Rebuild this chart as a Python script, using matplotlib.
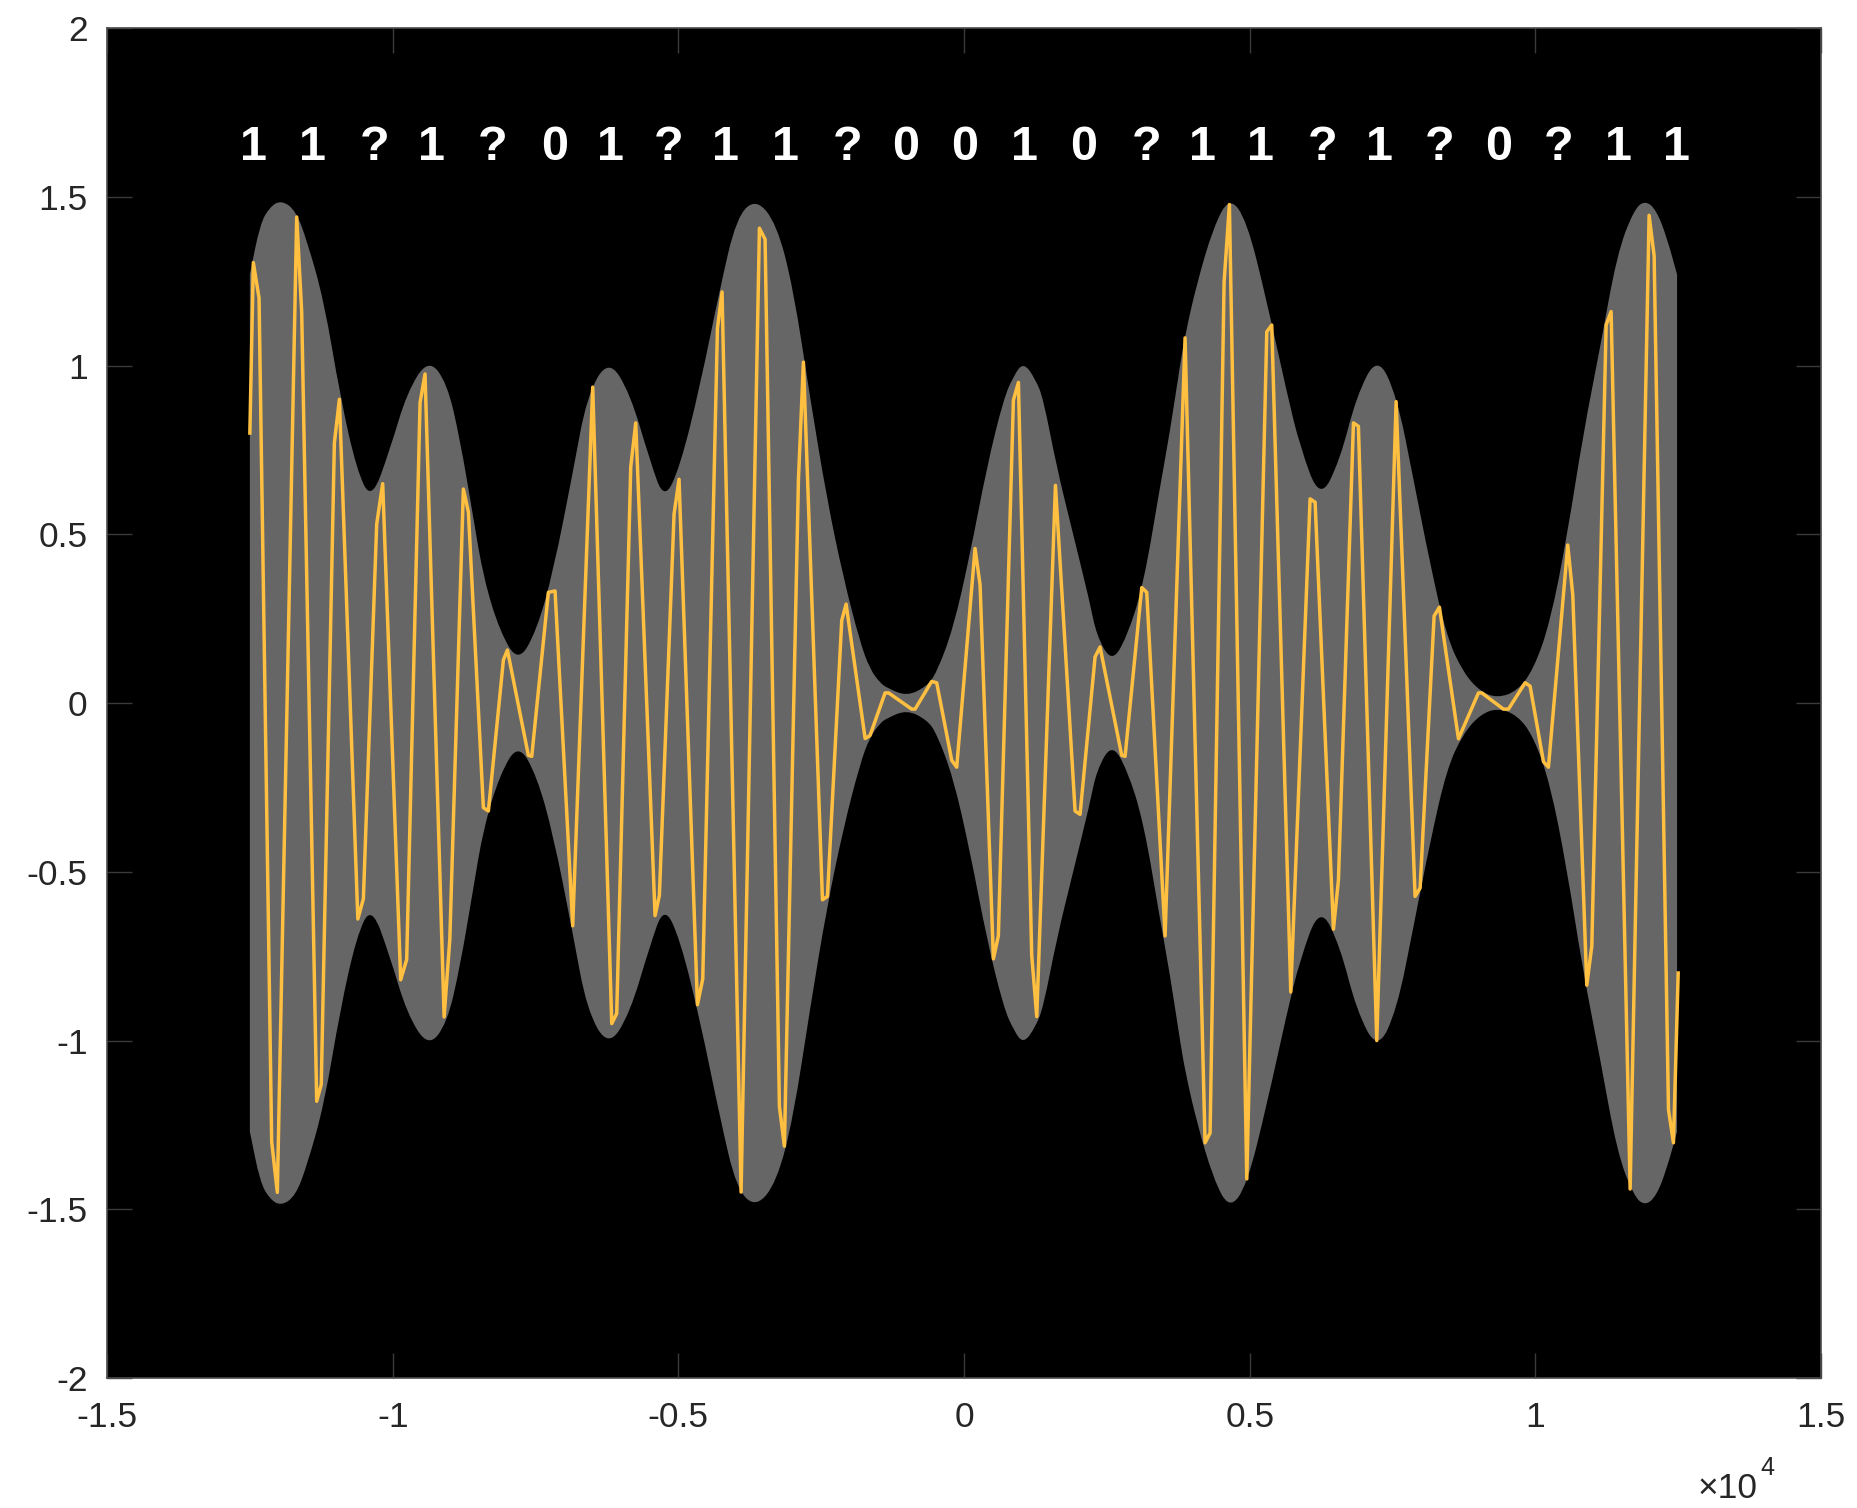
import matplotlib.pyplot as plt
from matplotlib.path import Path
from matplotlib.patches import PathPatch

plt.rcParams['font.family'] = ['Liberation Sans', 'DejaVu Sans']

# envelope (upper edge of the gray band)
env_x = [-12500, -12320, -12150, -11950, -11700, -11500, -11200, -10920, -10630, -10370,
         -10050, -9750, -9380, -9050, -8820, -8600, -8410, -8120, -7800, -7480,
         -7190, -6850, -6600, -6225, -5850, -5500, -5250, -4970, -4620, -4270,
         -3980, -3640, -3280, -2990, -2690, -2400, -2110, -1820, -1645, -1470,
         -1350, -1000, -650, -480, -190, 105, 400, 690, 870, 1040,
         1250, 1390, 1620, 1910, 2200, 2320, 2585, 2850, 3140, 3430,
         3600, 3780, 3870, 4070, 4365, 4645, 4950, 5300, 5650, 5880,
         6230, 6580, 6870, 7235, 7575, 7870, 8160, 8450, 8740, 9030,
         9330, 9680, 9970, 10260, 10550, 10840, 11130, 11430, 11720, 11920,
         12120, 12300, 12480]
env = [1.27, 1.42, 1.47, 1.49, 1.46, 1.37, 1.19, 0.91, 0.69, 0.60,
       0.75, 0.92, 1.02, 0.95, 0.78, 0.56, 0.37, 0.21, 0.12, 0.215,
       0.39, 0.68, 0.91, 1.02, 0.92, 0.72, 0.60, 0.70, 0.94, 1.23,
       1.44, 1.495, 1.42, 1.23, 0.90, 0.605, 0.37, 0.18, 0.10, 0.06,
       0.045, 0.02, 0.05, 0.09, 0.22, 0.44, 0.70, 0.90, 0.97, 1.01,
       0.96, 0.90, 0.70, 0.50, 0.30, 0.20, 0.12, 0.195, 0.35, 0.64,
       0.80, 1.0, 1.09, 1.24, 1.41, 1.50, 1.43, 1.19, 0.92, 0.76,
       0.60, 0.72, 0.91, 1.03, 0.91, 0.66, 0.41, 0.195, 0.09, 0.035,
       0.015, 0.035, 0.10, 0.24, 0.49, 0.80, 1.05, 1.33, 1.46, 1.49,
       1.46, 1.38, 1.27]

# sampled signal, vertices at the turning points
sig_x = [-12500, -12439, -12339, -12118, -12019, -11680, -11593, -11330, -11250, -11021,
         -10933, -10610, -10513, -10280, -10175, -9860, -9755, -9521, -9434, -9100,
         -9000, -8763, -8675, -8413, -8325, -8062, -7992, -7625, -7566, -7275,
         -7158, -6849, -6499, -6166, -6079, -5833, -5746, -5408, -5332, -5075,
         -4988, -4666, -4573, -4316, -4235, -3902, -3581, -3482, -3231, -3144,
         -2898, -2811, -2478, -2391, -2140, -2064, -1731, -1645, -1382, -1320,
         -916, -857, -566, -478, -215, -128, 193, 281, 514, 601,
         864, 952, 1185, 1273, 1600, 1944, 2031, 2294, 2381, 2760,
         2819, 3111, 3198, 3519, 3869, 4219, 4307, 4552, 4645, 4949,
         5299, 5386, 5719, 6057, 6145, 6466, 6553, 6816, 6903, 7224,
         7563, 7895, 7983, 8228, 8321, 8654, 9004, 9062, 9441, 9529,
         9821, 9908, 10142, 10229, 10567, 10655, 10900, 10988, 11239, 11326,
         11659, 11991, 12079, 12330, 12417, 12500]
sig_y = [0.80, 1.305, 1.20, -1.30, -1.45, 1.44, 1.16, -1.18, -1.13, 0.77,
         0.90, -0.64, -0.58, 0.53, 0.65, -0.82, -0.76, 0.89, 0.975, -0.93,
         -0.70, 0.634, 0.566, -0.31, -0.32, 0.128, 0.157, -0.155, -0.158, 0.328,
         0.332, -0.66, 0.936, -0.95, -0.92, 0.70, 0.83, -0.63, -0.57, 0.56,
         0.663, -0.894, -0.817, 1.11, 1.218, -1.449, 1.407, 1.374, -1.196, -1.313,
         0.663, 1.01, -0.583, -0.573, 0.245, 0.293, -0.105, -0.096, 0.03, 0.03,
         -0.018, -0.018, 0.064, 0.06, -0.17, -0.19, 0.458, 0.35, -0.758, -0.69,
         0.897, 0.95, -0.748, -0.929, 0.645, -0.32, -0.33, 0.137, 0.166, -0.155,
         -0.158, 0.342, 0.328, -0.69, 1.082, -1.303, -1.274, 1.247, 1.477, -1.41,
         1.10, 1.12, -0.856, 0.605, 0.595, -0.67, -0.525, 0.83, 0.82, -1.00,
         0.893, -0.573, -0.548, 0.258, 0.284, -0.106, 0.03, 0.03, -0.018, -0.018,
         0.06, 0.05, -0.174, -0.19, 0.468, 0.32, -0.836, -0.72, 1.12, 1.16,
         -1.44, 1.445, 1.325, -1.205, -1.303, -0.80]

bits = ['1', '1', '?', '1', '?', '0', '1', '?', '1', '1', '?', '0', '0',
        '1', '0', '?', '1', '1', '?', '1', '?', '0', '?', '1', '1']
bit_x = [-12429, -11409, -10325, -9320, -8252, -7167, -6196, -5175, -4170, -3118,
         -2033, -1014, 6, 1060, 2096, 3197, 4169, 5189, 6273, 7278,
         8330, 9350, 10402, 11454, 12474]
bit_y = 1.645

xticks = [-15000, -10000, -5000, 0, 5000, 10000, 15000]
xlabels = ['-1.5', '-1', '-0.5', '0', '0.5', '1', '1.5']
yticks = [-2, -1.5, -1, -0.5, 0, 0.5, 1, 1.5, 2]
ylabels = ['-2', '-1.5', '-1', '-0.5', '0', '0.5', '1', '1.5', '2']


def smooth_edge(xs, ys):
    # quadratic bezier through the midpoints, knots act as control points
    verts = [(xs[0], ys[0]), ((xs[0] + xs[1]) / 2, (ys[0] + ys[1]) / 2)]
    codes = [Path.LINETO, Path.LINETO]
    for i in range(1, len(xs) - 1):
        verts += [(xs[i], ys[i]), ((xs[i] + xs[i + 1]) / 2, (ys[i] + ys[i + 1]) / 2)]
        codes += [Path.CURVE3, Path.CURVE3]
    verts.append((xs[-1], ys[-1]))
    codes.append(Path.LINETO)
    return verts, codes


fig = plt.figure(figsize=(18.58, 15.08), dpi=100)
ax = fig.add_axes([0.0576, 0.0862, 0.9225, 0.8952])
ax.set_facecolor('black')

top_v, top_c = smooth_edge(env_x, env)
bot_v, bot_c = smooth_edge(env_x[::-1], [-e for e in env[::-1]])
verts = top_v + bot_v + [top_v[0]]
codes = [Path.MOVETO] + top_c[1:] + bot_c + [Path.CLOSEPOLY]
ax.add_patch(PathPatch(Path(verts, codes), facecolor='#666666', edgecolor='none'))

ax.plot(sig_x, sig_y, color='#FFBF40', lw=2.5)

for xb, b in zip(bit_x, bits):
    ax.text(xb, bit_y, b, color='white', fontsize=35, fontweight='bold',
            ha='center', va='center')

ax.set_xlim(-15000, 15000)
ax.set_ylim(-2, 2)
ax.set_xticks(xticks)
ax.set_xticklabels(xlabels)
ax.set_yticks(yticks)
ax.set_yticklabels(ylabels)
ax.tick_params(direction='in', length=18, width=1, color='#3a3a3a',
               labelsize=25.5, labelcolor='#262626', top=True, right=True)
ax.tick_params(axis='x', pad=16.5)
ax.tick_params(axis='y', pad=14)
for s in ax.spines.values():
    s.set_color('#4d4d4d')
    s.set_linewidth(1.2)

fig.text(1758 / 1858, 1 - 1488 / 1508, '\u00d710', fontsize=25.5, color='#262626',
         ha='right', va='center')
fig.text(1760 / 1858, 1 - 1468 / 1508, '4', fontsize=18, color='#262626',
         ha='left', va='center')

plt.savefig('out.png', dpi=100, facecolor='white')
